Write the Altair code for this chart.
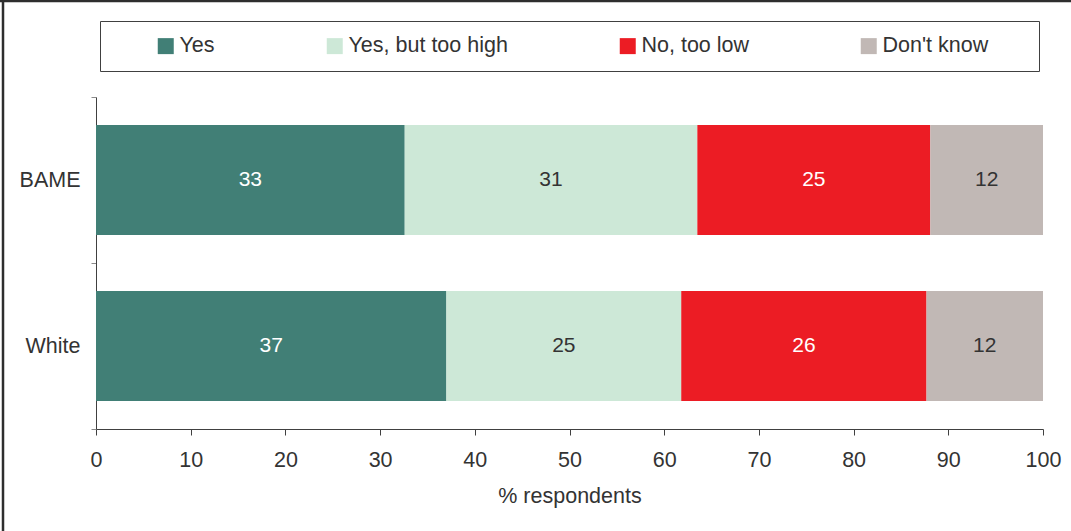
import altair as alt
import pandas as pd

# Survey shares (% respondents) by ethnic group
groups = ["BAME", "White"]
responses = ["Yes", "Yes, but too high", "No, too low", "Don't know"]
bame_pct = [32.6, 30.9, 24.6, 11.9]
white_pct = [37.0, 24.8, 25.9, 12.3]
x_ticks = [0, 10, 20, 30, 40, 50, 60, 70, 80, 90, 100]

palette = ["#417f76", "#cde8d7", "#ec1c24", "#c1b8b5"]
FONT = "Liberation Sans"
TEXT = "#333333"
FS = 21.5

rows = []
for g, vals in zip(groups, [bame_pct, white_pct]):
    for i, (r, v) in enumerate(zip(responses, vals)):
        rows.append({"group": g, "response": r, "pct": v, "rank": i})
df = pd.DataFrame(rows)

base = alt.Chart(df).transform_stack(
    stack="pct",
    groupby=["group"],
    as_=["x0", "x1"],
    sort=[alt.SortField("rank", order="ascending")],
).transform_calculate(mid="(datum.x0 + datum.x1) / 2")

y_enc = alt.Y(
    "group:N",
    sort=groups,
    scale=alt.Scale(paddingInner=0, paddingOuter=0),
    axis=alt.Axis(
        title=None,
        tickBand="extent",
        labelFont=FONT,
        labelFontSize=FS,
        labelColor=TEXT,
        labelPadding=11,
        tickSize=5,
        tickColor="#8a8a8a",
        domainColor="#404040",
        labelAngle=0,
    ),
)

bars = base.mark_bar(size=110).encode(
    x=alt.X(
        "x0:Q",
        scale=alt.Scale(domain=[0, 100], nice=False),
        axis=alt.Axis(
            values=x_ticks,
            title="% respondents",
            titleFont=FONT,
            titleFontSize=FS,
            titleFontWeight="normal",
            titleColor=TEXT,
            titlePadding=15,
            labelFont=FONT,
            labelFontSize=FS,
            labelColor=TEXT,
            labelPadding=14,
            labelFlush=False,
            tickSize=6,
            tickColor="#404040",
            domainColor="#404040",
            grid=False,
        ),
    ),
    x2="x1:Q",
    y=y_enc,
    color=alt.Color(
        "response:N",
        sort=responses,
        scale=alt.Scale(domain=responses, range=palette),
        legend=alt.Legend(
            orient="none",
            legendX=4,
            legendY=-76,
            direction="horizontal",
            title=" ",
            titleOrient="left",
            titleFontSize=FS,
            titlePadding=41,
            padding=14,
            strokeColor="#404040",
            fillColor="white",
            symbolType="square",
            symbolSize=256,
            symbolStrokeWidth=0,
            labelFont=FONT,
            labelFontSize=FS,
            labelColor=TEXT,
            labelOffset=3,
            labelLimit=400,
            columnPadding=73,
            labelExpr="datum.label + '      \u200b'",
        ),
    ),
)

labels = base.mark_text(font=FONT, fontSize=21).encode(
    x="mid:Q",
    y=alt.Y("group:N", sort=groups),
    text=alt.Text("pct:Q", format=".0f"),
    color=alt.condition(
        "datum.response == 'Yes' || datum.response == 'No, too low'",
        alt.value("white"),
        alt.value(TEXT),
    ),
)

# outer frame lines along the top and left edges of the figure
one = pd.DataFrame({"k": [0]})
frame_top = alt.Chart(one).mark_rule(color="#2e2e2e", strokeWidth=2.5).encode(
    x=alt.value(-96), x2=alt.value(975), y=alt.value(-96)
)
frame_left = alt.Chart(one).mark_rule(color="#2e2e2e", strokeWidth=2.5).encode(
    x=alt.value(-93), y=alt.value(-97), y2=alt.value(434)
)

chart = (
    alt.layer(bars, labels, frame_top, frame_left)
    .properties(
        width=947,
        height=332,
        autosize=alt.AutoSizeParams(type="none"),
        padding={"left": 96, "top": 97, "right": 28, "bottom": 102},
        background="white",
    )
    .configure_view(strokeWidth=0)
)

chart.save("out.html", embed_options={"renderer": "svg", "actions": False})
